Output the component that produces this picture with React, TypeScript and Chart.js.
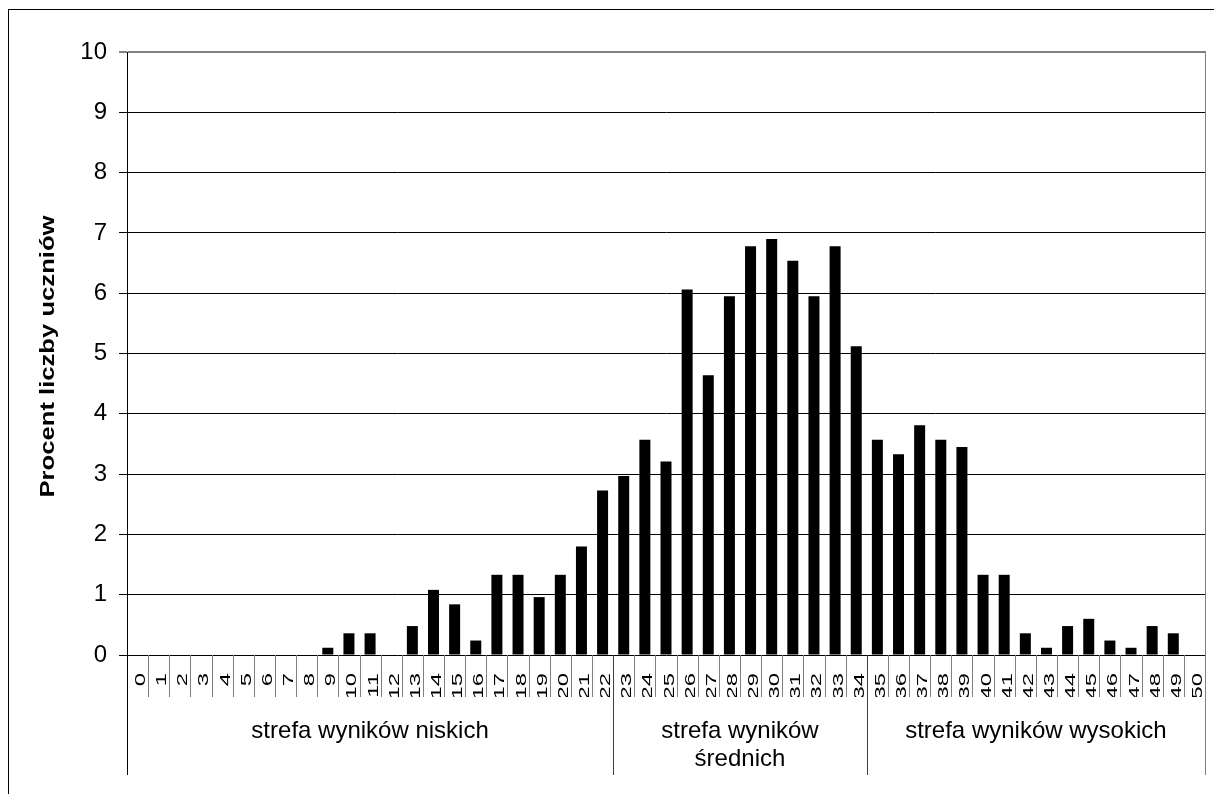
import React, { useEffect, useRef } from "react";
import { Chart, registerables } from "chart.js";

Chart.register(...registerables);

const FONT = '"Liberation Sans", Arial, Helvetica, sans-serif';

const categories = [
  "0", "1", "2", "3", "4", "5", "6", "7", "8", "9",
  "10", "11", "12", "13", "14", "15", "16", "17", "18", "19",
  "20", "21", "22", "23", "24", "25", "26", "27", "28", "29",
  "30", "31", "32", "33", "34", "35", "36", "37", "38", "39",
  "40", "41", "42", "43", "44", "45", "46", "47", "48", "49",
  "50",
];

const percentValues = [
  0, 0, 0, 0, 0, 0, 0, 0, 0, 0.12,
  0.36, 0.36, 0, 0.48, 1.08, 0.84, 0.24, 1.33, 1.33, 0.96,
  1.33, 1.8, 2.73, 2.97, 3.57, 3.21, 6.06, 4.64, 5.95, 6.78,
  6.9, 6.54, 5.95, 6.78, 5.12, 3.57, 3.33, 3.81, 3.57, 3.45,
  1.33, 1.33, 0.36, 0.12, 0.48, 0.6, 0.24, 0.12, 0.48, 0.36,
  0,
];

const yMin = 0;
const yMax = 10;
const yStep = 1;

const yTitle = "Procent liczby uczniów";

const groupLabels = [
  ["strefa wyników niskich"],
  ["strefa wyników", "średnich"],
  ["strefa wyników wysokich"],
];
const groupFirst = [0, 23, 35];
const groupLast = [22, 34, 50];

const overlayPlugin = {
  id: "overlay",
  afterDraw(chart: any) {
    const ctx = chart.ctx as CanvasRenderingContext2D;
    const { left, right, top, bottom } = chart.chartArea;
    const xs = chart.scales.x;
    const n = categories.length;
    const w = (right - left) / n;
    const center = (i: number) => xs.getPixelForValue(i);
    const edgeBefore = (i: number) => center(i) - w / 2;
    const edgeAfter = (i: number) => center(i) + w / 2;
    const tickBottom = bottom + 42;
    const groupBottom = bottom + 120;
    const crisp = (v: number) => Math.round(v) + 0.5;

    ctx.save();

    // category separators
    ctx.strokeStyle = "#808080";
    ctx.lineWidth = 1;
    for (let i = 1; i < n; i++) {
      const ex = crisp(edgeBefore(i));
      ctx.beginPath();
      ctx.moveTo(ex, bottom);
      ctx.lineTo(ex, tickBottom);
      ctx.stroke();
    }

    // category labels: rotated, stretched along the text, clipped to the tick box
    ctx.save();
    ctx.beginPath();
    ctx.rect(left, bottom + 1, right - left, tickBottom - bottom - 1);
    ctx.clip();
    ctx.font = `14px ${FONT}`;
    ctx.fillStyle = "#000";
    ctx.textAlign = "right";
    ctx.textBaseline = "alphabetic";
    for (let i = 0; i < n; i++) {
      ctx.save();
      ctx.translate(center(i) + 7.5, bottom + 18);
      ctx.rotate(-Math.PI / 2);
      ctx.scale(1.7, 1);
      ctx.fillText(categories[i], 0, 0);
      ctx.restore();
    }
    ctx.restore();

    // y axis line continued through the category box
    ctx.strokeStyle = "#000";
    ctx.lineWidth = 1;
    ctx.beginPath();
    ctx.moveTo(crisp(left - 0.5), bottom);
    ctx.lineTo(crisp(left - 0.5), groupBottom);
    ctx.stroke();

    // group separators
    ctx.strokeStyle = "#404040";
    for (let g = 1; g < groupFirst.length; g++) {
      const ex = crisp(edgeBefore(groupFirst[g]));
      ctx.beginPath();
      ctx.moveTo(ex, bottom);
      ctx.lineTo(ex, groupBottom);
      ctx.stroke();
    }

    // right border
    ctx.strokeStyle = "#808080";
    ctx.lineWidth = 2;
    const rx = Math.round(right) + 1;
    ctx.beginPath();
    ctx.moveTo(rx, top - 1);
    ctx.lineTo(rx, groupBottom);
    ctx.stroke();

    // group labels
    ctx.font = `24px ${FONT}`;
    ctx.fillStyle = "#000";
    ctx.textAlign = "center";
    ctx.textBaseline = "middle";
    for (let g = 0; g < groupLabels.length; g++) {
      const cx = (edgeBefore(groupFirst[g]) + edgeAfter(groupLast[g])) / 2;
      groupLabels[g].forEach((line, k) => {
        ctx.fillText(line, cx, bottom + 76 + k * 28);
      });
    }

    // y title
    ctx.font = `bold 20px ${FONT}`;
    const tw = ctx.measureText(yTitle).width;
    const targetLen = 282;
    ctx.save();
    ctx.translate(46, (top + bottom) / 2 + 3);
    ctx.rotate(-Math.PI / 2);
    ctx.scale(targetLen / tw, 1);
    ctx.textAlign = "center";
    ctx.textBaseline = "alphabetic";
    ctx.fillText(yTitle, 0, 0);
    ctx.restore();

    ctx.restore();
  },
};

export default function App() {
  const canvasRef = useRef<HTMLCanvasElement | null>(null);

  useEffect(() => {
    const canvas = canvasRef.current;
    if (!canvas) return;
    const chart = new Chart(canvas, {
      type: "bar",
      data: {
        labels: categories,
        datasets: [
          {
            data: percentValues,
            backgroundColor: "#000000",
            borderWidth: 0,
            barPercentage: 0.52,
            categoryPercentage: 1,
          },
        ],
      },
      options: {
        responsive: false,
        animation: false,
        devicePixelRatio: 1,
        layout: { padding: { left: 0, top: 44, right: 9, bottom: 131 } },
        plugins: {
          legend: { display: false },
          tooltip: { enabled: false },
          title: { display: false },
        },
        scales: {
          x: { type: "category", display: false },
          y: {
            min: yMin,
            max: yMax,
            afterFit: (scale: any) => {
              scale.width = 119;
            },
            ticks: {
              stepSize: yStep,
              color: "#000",
              padding: 12,
              font: { family: FONT, size: 24 },
            },
            grid: {
              color: (c: any) => (c.tick && c.tick.value === yMax ? "#808080" : "#000"),
              lineWidth: (c: any) => (c.tick && c.tick.value === yMax ? 2 : 1),
              tickColor: "#000",
              tickWidth: 1,
              tickLength: 8,
              drawTicks: true,
            },
            border: { display: true, color: "#000", width: 1 },
          },
        },
      },
      plugins: [overlayPlugin],
    });
    return () => chart.destroy();
  }, []);

  return (
    <div style={{ position: "relative", width: 1206, height: 778, overflow: "hidden" }}>
      <canvas ref={canvasRef} width={1206} height={778} style={{ display: "block" }} />
      <div
        style={{
          position: "fixed",
          left: 8,
          top: 9,
          width: 1400,
          height: 1000,
          borderTop: "1px solid #000",
          borderLeft: "1px solid #000",
          pointerEvents: "none",
        }}
      />
    </div>
  );
}
